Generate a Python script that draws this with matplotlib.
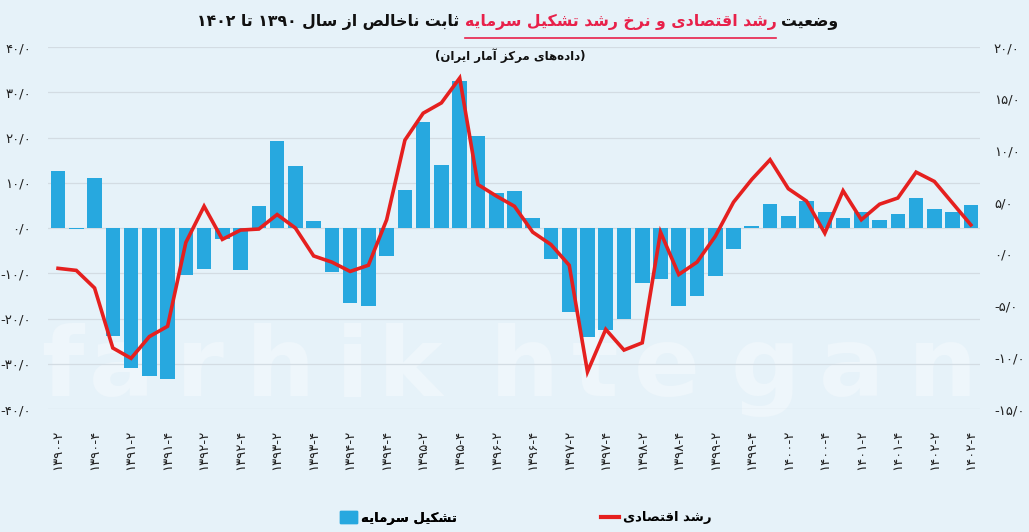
import matplotlib
matplotlib.use('Agg')
import matplotlib.pyplot as plt
from matplotlib.lines import Line2D
from matplotlib.patches import Patch
import numpy as np

plt.rcParams['font.family'] = ['DejaVu Sans']

# ---------------- data ----------------
years = [1390, 1391, 1392, 1393, 1394, 1395, 1396, 1397, 1398, 1399, 1400, 1401, 1402]
periods = [(y, q) for y in years for q in (1, 2, 3, 4)][1:]   # 1390-2 ... 1402-4

capital_formation = [12.7, -0.3, 11.0, -23.8, -31.0, -32.8, -33.4, -10.3, -9.1, -2.4,
                     -9.2, 4.8, 19.3, 13.8, 1.5, -9.7, -16.5, -17.2, -6.1, 8.4,
                     23.5, 13.9, 32.4, 20.4, 7.7, 8.2, 2.1, -6.9, -18.5, -24.1,
                     -22.5, -20.1, -12.2, -11.2, -17.2, -15.1, -10.5, -4.6, 0.5, 5.4,
                     2.6, 5.9, 3.5, 2.2, 3.5, 1.7, 3.1, 6.6, 4.3, 3.5, 5.0]
gdp_growth = [-1.4, -1.6, -3.3, -9.1, -10.1, -8.0, -7.0, 1.1, 4.6, 1.4,
              2.3, 2.4, 3.8, 2.5, -0.2, -0.8, -1.7, -1.1, 3.3, 11.0,
              13.6, 14.6, 17.0, 6.7, 5.6, 4.6, 2.1, 0.9, -1.1, -11.4,
              -7.3, -9.3, -8.6, 2.1, -2.0, -0.8, 1.7, 5.0, 7.2, 9.1,
              6.3, 5.1, 2.0, 6.1, 3.3, 4.8, 5.4, 7.9, 7.0, 4.9, 2.8]

left_ticks = [40, 30, 20, 10, 0, -10, -20, -30, -40]
right_ticks = [20, 15, 10, 5, 0, -5, -10, -15]

title_right = "وضعیت"
title_red = "رشد اقتصادی و نرخ رشد تشکیل سرمایه"
title_left = "ثابت ناخالص از سال ۱۳۹۰ تا ۱۴۰۲"
subtitle = "(داده\u200cهای مرکز آمار ایران)"
legend_bar = "تشکیل سرمایه"
legend_line = "رشد اقتصادی"
watermark = "farhikhtegan"

# ---------------- simple Persian shaping ----------------
FORMS = {
    '\u0627': ('\uFE8D', '\uFE8E', None, None),
    '\u0622': ('\uFE81', '\uFE82', None, None),
    '\u0628': ('\uFE8F', '\uFE90', '\uFE91', '\uFE92'),
    '\u062A': ('\uFE95', '\uFE96', '\uFE97', '\uFE98'),
    '\u062B': ('\uFE99', '\uFE9A', '\uFE9B', '\uFE9C'),
    '\u062E': ('\uFEA5', '\uFEA6', '\uFEA7', '\uFEA8'),
    '\u062F': ('\uFEA9', '\uFEAA', None, None),
    '\u0631': ('\uFEAD', '\uFEAE', None, None),
    '\u0632': ('\uFEAF', '\uFEB0', None, None),
    '\u0633': ('\uFEB1', '\uFEB2', '\uFEB3', '\uFEB4'),
    '\u0634': ('\uFEB5', '\uFEB6', '\uFEB7', '\uFEB8'),
    '\u0635': ('\uFEB9', '\uFEBA', '\uFEBB', '\uFEBC'),
    '\u0636': ('\uFEBD', '\uFEBE', '\uFEBF', '\uFEC0'),
    '\u0639': ('\uFEC9', '\uFECA', '\uFECB', '\uFECC'),
    '\u0642': ('\uFED5', '\uFED6', '\uFED7', '\uFED8'),
    '\u0644': ('\uFEDD', '\uFEDE', '\uFEDF', '\uFEE0'),
    '\u0645': ('\uFEE1', '\uFEE2', '\uFEE3', '\uFEE4'),
    '\u0646': ('\uFEE5', '\uFEE6', '\uFEE7', '\uFEE8'),
    '\u0647': ('\uFEE9', '\uFEEA', '\uFEEB', '\uFEEC'),
    '\u0648': ('\uFEED', '\uFEEE', None, None),
    '\u06A9': ('\uFB8E', '\uFB8F', '\uFB90', '\uFB91'),
    '\u06CC': ('\uFBFC', '\uFBFD', '\uFBFE', '\uFBFF'),
}
DIGITS = set('۰۱۲۳۴۵۶۷۸۹0123456789')


def fa(text):
    out = []
    n = len(text)
    for i, c in enumerate(text):
        if c == '\u200c':
            continue
        if c not in FORMS:
            out.append(c)
            continue
        f = FORMS[c]
        prev = text[i - 1] if i > 0 else ''
        nxt = text[i + 1] if i < n - 1 else ''
        jp = prev in FORMS and FORMS[prev][2] is not None
        jn = f[2] is not None and nxt in FORMS
        if jp and jn:
            out.append(f[3])
        elif jp:
            out.append(f[1])
        elif jn:
            out.append(f[2])
        else:
            out.append(f[0])
    s = ''.join(out)[::-1]
    res, run = [], []
    for ch in s:
        if ch in DIGITS:
            run.append(ch)
        else:
            if run:
                res.extend(run[::-1]); run = []
            res.append({'(': ')', ')': '('}.get(ch, ch))
    if run:
        res.extend(run[::-1])
    return ''.join(res)


PD = str.maketrans('0123456789', '۰۱۲۳۴۵۶۷۸۹')


def fnum(v):
    s = f"{abs(v):.1f}".replace('.', '/').translate(PD)
    return ('-' + s) if v < 0 else s


# ---------------- figure ----------------
W, H = 1029, 532
BG = '#e6f2f9'
BAR = '#27a8df'
RED = '#e5201f'
fig = plt.figure(figsize=(W / 100, H / 100), dpi=100, facecolor=BG)


def fx(px):
    return px / W


def fy(py):
    return 1 - py / H


# faint letter-spaced watermark behind the plot
wm_centers = [62, 122, 200, 280, 352, 410, 525, 595, 667, 765, 852, 942]
for ch, cxp in zip(watermark, wm_centers):
    fig.text(fx(cxp), fy(396), ch, fontsize=70, fontweight='bold', color='#eef6fb',
             ha='center', va='baseline', zorder=-5)

ax = fig.add_axes([fx(48), fy(409), fx(980 - 48), (409 - 47) / H])
ax.set_facecolor('none')
ax2 = ax.twinx()

x = np.arange(len(capital_formation))
bars = ax.bar(x, capital_formation, width=0.8, color=BAR, zorder=3)
line, = ax2.plot(x, gdp_growth, color=RED, lw=2.6, zorder=4, solid_joinstyle='miter')

ax.set_xlim(-0.55, len(x) - 1 + 0.5)
ax.set_ylim(-40, 40)
ax2.set_ylim(-15, 20)

ax.set_yticks(left_ticks)
ax.set_yticklabels([fnum(v) for v in left_ticks])
ax2.set_yticks(right_ticks)
ax2.set_yticklabels([fnum(v) for v in right_ticks])
ax.grid(axis='y', color='#d3dce3', lw=0.9, zorder=0)
ax.set_axisbelow(True)

tick_idx = [i for i, (y, q) in enumerate(periods) if q in (2, 4)]
ax.set_xticks(tick_idx)
ax.set_xticklabels([f"{periods[i][0]}-{periods[i][1]}".translate(PD) for i in tick_idx],
                   rotation=90, fontsize=9.5, color='#222222')

for a in (ax, ax2):
    for s in a.spines.values():
        s.set_visible(False)
ax.tick_params(axis='both', length=0, labelsize=9.5, labelcolor='#222222')
ax.tick_params(axis='y', pad=12)
ax.tick_params(axis='x', pad=15)
ax2.tick_params(axis='y', length=0, labelsize=9.5, labelcolor='#222222', pad=10)

# ---------------- title ----------------
fig.canvas.draw()
r = fig.canvas.get_renderer()
TS = 11.3
parts = [(fa(title_left), '#111111'), (fa(title_red), '#e8214a'), (fa(title_right), '#111111')]
texts = []
for s, c in parts:
    t = fig.text(0, fy(22), s, fontsize=TS, fontweight='bold', color=c, ha='left', va='center')
    texts.append(t)
gap = 5
widths = [t.get_window_extent(r).width for t in texts]
total = sum(widths) + gap * (len(widths) - 1)
cx = 518
xpos = cx - total / 2
for t, w in zip(texts, widths):
    t.set_x(fx(xpos))
    xpos += w + gap
bb = texts[1].get_window_extent(r)
fig.add_artist(Line2D([fx(bb.x0), fx(bb.x1)], [fy(38), fy(38)], color='#e8214a', lw=1.2))

fig.text(fx(510), fy(56), fa(subtitle), fontsize=8.5, fontweight='bold', color='#111111',
         ha='center', va='center')

# ---------------- legend ----------------
leg1 = fig.legend(handles=[Patch(color=BAR)], labels=[fa(legend_bar)],
                  loc='center left', bbox_to_anchor=(fx(328), fy(518)), frameon=False,
                  handlelength=1.3, handleheight=1.0, handletextpad=0.3,
                  prop={'weight': 'bold', 'size': 9.5})
leg2 = fig.legend(handles=[Line2D([], [], color=RED, lw=3)], labels=[fa(legend_line)],
                  loc='center left', bbox_to_anchor=(fx(589), fy(518)), frameon=False,
                  handlelength=1.4, handletextpad=0.3, prop={'weight': 'bold', 'size': 9.5})
fig.add_artist(leg1)

fig.savefig('out.png', dpi=100, facecolor=BG)
